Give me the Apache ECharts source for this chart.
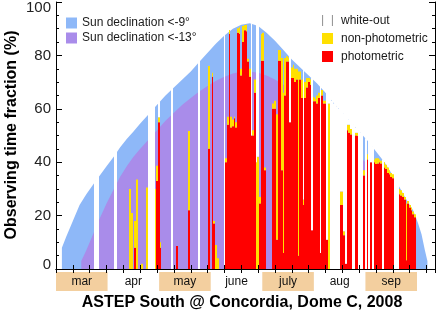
<!DOCTYPE html>
<html><head><meta charset="utf-8">
<script src="https://cdn.jsdelivr.net/npm/echarts@6/dist/echarts.min.js"></script>
<style>html,body{margin:0;padding:0;background:#fff}#c{width:436px;height:319px}</style>
</head><body><div id="c"></div>
<script>
// Month bands
const months = ['mar','apr','may','june','july','aug','sep'];
const monthShaded = [1,0,1,0,1,0,1];
const yTicks = [0,20,40,60,80,100];

// Envelope: fraction of day with sun below -9° (blue) and -13° (purple), x = day of year 2008
const blueDays = [63.5,63.5,66,70,74,78,82.5,86,90,94.5,98,102,106,110,115,120,125,130,135,140,145,150,155,160,165,170,175,180,185,190,195,200,205,210,215,220,225,230,235,240,245,250,255,260,264,268,272,275,277,279,280.5,280.5];
const blueVals = [0,8,12,18,24,28,32,35,38.5,42.2,45.5,48.7,51.5,54.5,58,61.5,65,68,71,74,77.5,81,84.5,87.5,90,91.5,92,91,88.5,85.5,82,78.5,75.5,72.5,69.5,66,62,58.5,55,51.5,48,44,40,35,30.5,26,22,17,13,7,3,0];
const purpleDays = [75,75,78,80,83,86,90,94,98,102,106,110,115,120,125,130,135,140,145,150,155,160,165,170,175,180,185,190,195,200,205,210,215,220,225,230,235,240,245,250,255,260,263,266,268,270,271.5,271.5];
const purpleVals = [0,3,7,10,14.5,19,24.5,29.5,34.5,38.5,42,45,48.5,52,55.5,58.5,61.5,64,66.5,68.5,70.5,72,73.2,74,74,73.5,72.5,71,69,67,64.5,62,59,56,52.5,49.5,46,42.5,39,35,31,25.5,22,17.5,13.5,8.5,4,0];

// Daily observation record (percent of day)
const obsDays = [83,84,85,95,96,104,105,107,108,111,114,115,116,117,118,119,120,121,122,129,132,139,145,
 151,153,154,155,156,160,161,162,163,164,165,166,167,168,169,170,171,172,173,174,175,176,177,178,179,180,181,182,183,184,
 189,190,191,192,193,194,195,196,197,198,199,200,201,202,203,204,205,206,207,208,209,210,211,212,213,214,215,216,217,218,219,220,221,222,
 223,224,225,226,227,228,229,230,231,232,233,234,235,236,237,238,239,240,241,242,243,244,245,246,247,248,249,250,251,252,253,254,
 255,256,257,258,259,260,261,262,263,264,265,266,267,268,269,270,271,272,273];
const photometric = [0,0,0,0,0,0,0,8,0,0,0,0,0,0,0,0,33,55,8,0,8.6,22,0,
 45,72,17,0,0,0,40,54,88,53,53.5,56.5,53,88.5,88,72.5,85,89.4,89,77.7,72,50,50,66,0,0,24.5,78,78,37,
 60,60,11,78,78,37,6,65,77.7,77.7,55,71.5,71.5,70,71,5,71,64,24,64,68,70,69,14.5,62.8,62.8,62,64,6,65,62,62,11,0,
 0,0,0,0,0,0,24,24,12.6,2,52,51,50.4,0,0,50,49.8,0,0,0,35,0,41,0,40,0,40,39.3,39.5,40,39.5,0,
 38,37.5,36,35.5,34.5,34,0,0,0,28,27.5,27,26,3.3,24.5,23,22,20.5,19.4];
const nonPhotometric = [0,0,0,0,0,30,21,10,33.5,2,30.5,0,0,0,0,30,5.7,1.8,2,0,0,29.7,0,
 31,1.5,1,9,4,0,1.5,3,1.5,4,2.5,0.5,2,1.7,2.5,2.5,6,2,2.5,1,3,0,2,5,40,42,2.5,10,10.5,1,
 2,3,47,4,4,42,60,14,2,1.5,0,4,5,5,4,69,3,7,2,6,3.5,1.5,2,0,1.5,1,3,2,0,2,1,1,0,62,
 0,0,0,0,0,0,5,5,1.5,0,2,3,2,0,0,1,1.2,0,0,0,2,0,2,0,0,0,1,2.2,2,1,1,0,
 2,1.5,2,1.5,1.5,1.5,0,0,0,2,2,1.5,1,21.2,1,1,1,1,1.1];
const whiteOut = [33,34,35,44,45,0,0,0,0,0,0,59,60,60,61,0,0,6,0,68,0,0,78,
 0,0,0,0,0,88,0,0,0,0,0,0,0,0,0,0,0,0,0,0,0,42,0,0,52,50,0,0,0,0,
 0,0,0,0,0,0,0,0,0,0,25,0,0,0,0,0,0,0,49,0,0,0,0,57,0,0,0,0,63,0,0,0,55,3,
 64,63,62,62,61,60,31,30,44,56,3,2,3,55,54,2,2,52,51,51,0,49,0,48,7,46,0,0,0,0,0,41,
 0,0,0,0,0,0,35,34,33,0,0,0,0,0,0,0,0,0,0];

const BLUE = '#8eb8f8', PURPLE = '#a98cea', RED = '#ff0000', YEL = '#ffe000', TAN = '#f3cf9f';
const FONT = 'Liberation Sans';

const chart = echarts.init(document.getElementById('c'), null, {renderer: 'canvas'});
const pair = (xs, ys) => xs.map((d, i) => [d, ys[i]]);

// stacked segments: [day, bottom, top]
const segR = obsDays.map((d, i) => [d, 0, photometric[i]]);
const segY = obsDays.map((d, i) => [d, photometric[i], photometric[i] + nonPhotometric[i]]);
const segW = obsDays.map((d, i) => [d, photometric[i] + nonPhotometric[i], photometric[i] + nonPhotometric[i] + whiteOut[i]]);

function dayRect(params, api) {
  const d = api.value(0), lo = api.value(1), hi = api.value(2);
  if (!(hi > lo)) return null;
  const p0 = api.coord([d - 0.5, lo]);
  const p1 = api.coord([d + 0.5, hi]);
  const x0 = Math.round(p0[0]), x1 = Math.max(Math.round(p1[0]), x0 + 1);
  return {type: 'rect',
    shape: {x: x0, y: p1[1], width: x1 - x0, height: p0[1] - p1[1]},
    style: {fill: api.visual('color')}};
}

const xCommon = {type: 'value', min: 60, max: 285, interval: 10, z: 10,
  axisLine: {show: true, lineStyle: {color: '#000', width: 1}},
  axisTick: {show: true, inside: true, length: 4, lineStyle: {color: '#000'}},
  axisLabel: {show: false}, splitLine: {show: false}};
const yCommon = {type: 'value', min: 0, max: 100, interval: 20, z: 10,
  axisLine: {show: true, lineStyle: {color: '#000', width: 1}},
  axisTick: {show: true, inside: true, length: 6, lineStyle: {color: '#000'}},
  minorTick: {show: true, splitNumber: 4, length: 3, lineStyle: {color: '#000'}},
  splitLine: {show: false}, minorSplitLine: {show: false}};

const option = {
  animation: false,
  backgroundColor: '#fff',
  grid: [
    {left: 56, right: 1, top: 1, height: 268},
    {left: 56, width: 361, top: 272, height: 19}
  ],
  xAxis: [
    Object.assign({}, xCommon, {gridIndex: 0, position: 'bottom'}),
    Object.assign({}, xCommon, {gridIndex: 0, position: 'top'}),
    {type: 'category', gridIndex: 1, data: months, show: false, boundaryGap: true}
  ],
  yAxis: [
    Object.assign({}, yCommon, {gridIndex: 0, position: 'left',
      axisLabel: {show: true, margin: 5, fontFamily: FONT, fontSize: 15, color: '#222',
        customValues: yTicks,
        formatter: v => v === 100 ? '{a|100}' : (v === 0 ? '{b|0}' : String(v)),
        rich: {a: {fontFamily: FONT, fontSize: 15, color: '#222', padding: [11, 0, 0, 0]},
               b: {fontFamily: FONT, fontSize: 15, color: '#222', padding: [0, 0, 8, 0]}}}}),
    Object.assign({}, yCommon, {gridIndex: 0, position: 'right', axisLabel: {show: false}}),
    {type: 'value', gridIndex: 1, min: 0, max: 1, show: false}
  ],
  legend: [
    {orient: 'vertical', left: 66, top: 17, padding: 0, itemGap: 3, itemWidth: 11, itemHeight: 11,
     selectedMode: false, icon: 'rect',
     textStyle: {fontFamily: FONT, fontSize: 12, color: '#1a1a1a'},
     data: [{name: 'Sun declination <-9°', itemStyle: {color: BLUE}},
            {name: 'Sun declination <-13°', itemStyle: {color: PURPLE}}]},
    {orient: 'vertical', left: 322, top: 14.5, padding: 0, itemGap: 6, itemWidth: 11, itemHeight: 11,
     selectedMode: false,
     textStyle: {fontFamily: FONT, fontSize: 12, color: '#1a1a1a', padding: [0, 0, 0, 3]},
     data: [{name: 'white-out', icon: 'path://M0,0h1v10h-1z M9,0h1v10h-1z', itemStyle: {color: '#999'}},
            {name: 'non-photometric', icon: 'rect', itemStyle: {color: YEL}},
            {name: 'photometric', icon: 'rect', itemStyle: {color: RED}}]}
  ],
  graphic: [
    {type: 'text', x: 242, y: 303, style: {text: 'ASTEP South @ Concordia, Dome C, 2008',
      font: 'bold 16px "Liberation Sans"', fill: '#000', align: 'center', verticalAlign: 'middle'}},
    {type: 'text', x: 12, y: 135, rotation: Math.PI / 2, style: {text: 'Observing time fraction (%)',
      font: 'bold 16px "Liberation Sans"', fill: '#000', align: 'center', verticalAlign: 'middle'}}
  ],
  series: [
    {name: 'Sun declination <-9°', type: 'line', xAxisIndex: 0, yAxisIndex: 0, data: pair(blueDays, blueVals),
     symbol: 'none', lineStyle: {width: 0, color: BLUE}, itemStyle: {color: BLUE},
     areaStyle: {color: BLUE, opacity: 1}, z: 1, silent: true},
    {name: 'Sun declination <-13°', type: 'line', xAxisIndex: 0, yAxisIndex: 0, data: pair(purpleDays, purpleVals),
     symbol: 'none', lineStyle: {width: 0, color: PURPLE}, itemStyle: {color: PURPLE},
     areaStyle: {color: PURPLE, opacity: 1}, z: 1, silent: true},
    {name: 'photometric', type: 'custom', xAxisIndex: 0, yAxisIndex: 0, renderItem: dayRect,
     encode: {x: 0, y: [1, 2]}, data: segR, itemStyle: {color: RED}, z: 3, silent: true, clip: true},
    {name: 'non-photometric', type: 'custom', xAxisIndex: 0, yAxisIndex: 0, renderItem: dayRect,
     encode: {x: 0, y: [1, 2]}, data: segY, itemStyle: {color: YEL}, z: 3, silent: true, clip: true},
    {name: 'white-out', type: 'custom', xAxisIndex: 0, yAxisIndex: 0, renderItem: dayRect,
     encode: {x: 0, y: [1, 2]}, data: segW, itemStyle: {color: '#fff'}, z: 3, silent: true, clip: true},
    {name: 'months', type: 'bar', xAxisIndex: 2, yAxisIndex: 2, barWidth: '100%', silent: true,
     data: months.map((m, i) => ({value: 1, itemStyle: {color: monthShaded[i] ? TAN : 'rgba(0,0,0,0)'}})),
     label: {show: true, position: 'inside', formatter: p => months[p.dataIndex],
       fontFamily: FONT, fontSize: 12, color: '#111'}}
  ]
};
chart.setOption(option);
</script></body></html>
